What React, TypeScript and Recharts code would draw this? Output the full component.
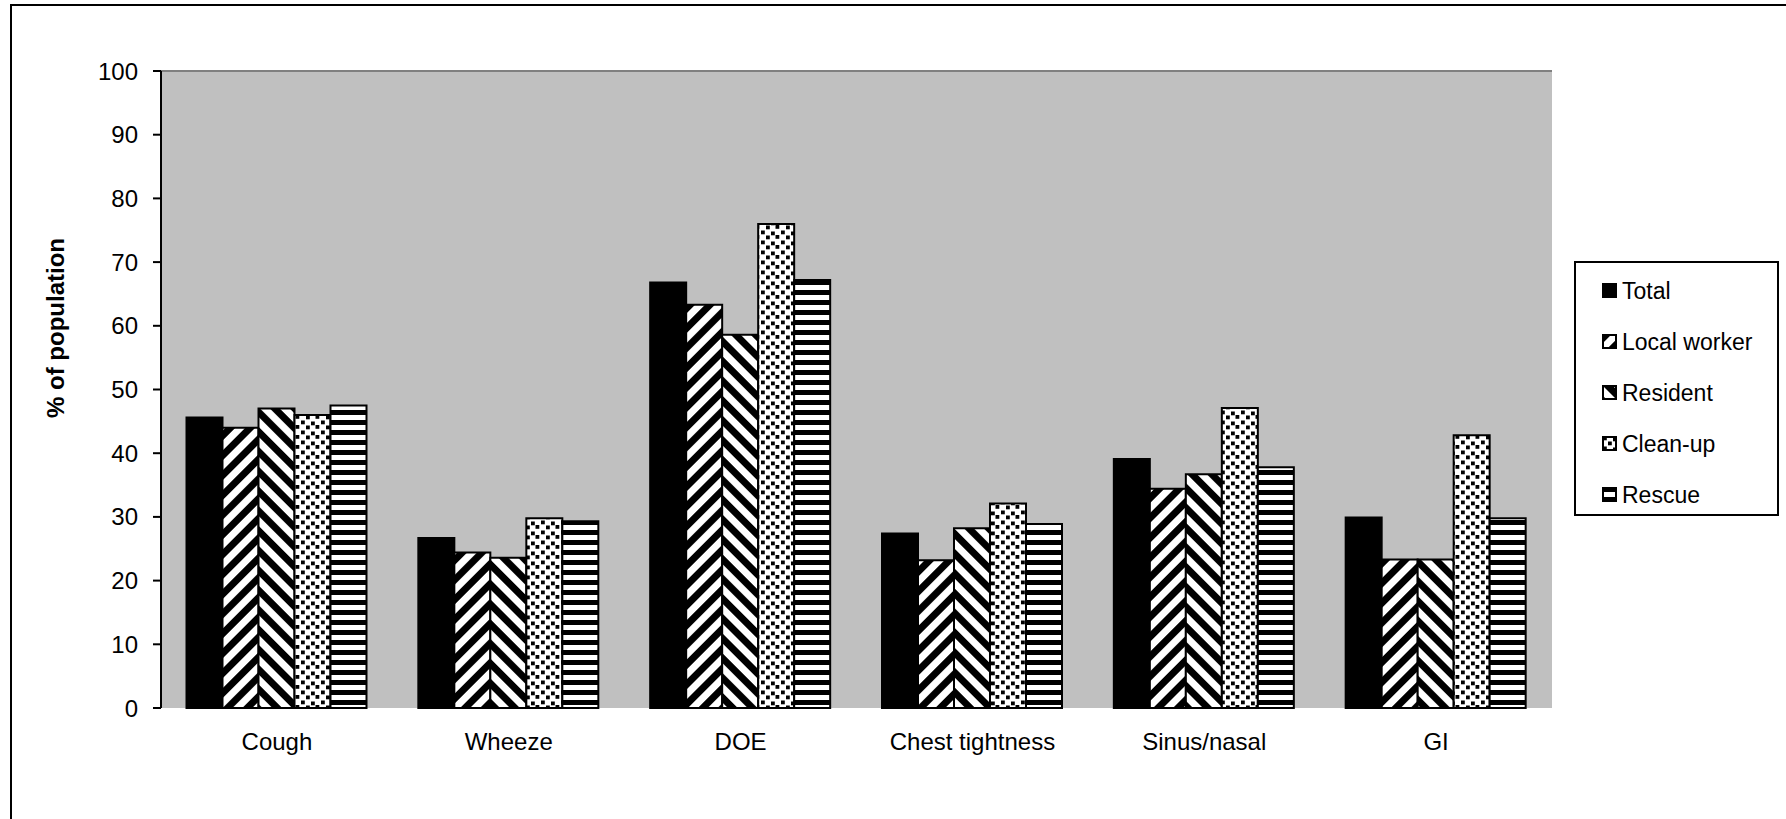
import {
  BarChart,
  Bar,
  XAxis,
  YAxis,
  CartesianGrid,
  ReferenceLine,
} from "recharts";

const categories = ["Cough", "Wheeze", "DOE", "Chest tightness", "Sinus/nasal", "GI"];
const total = [45.6, 26.7, 66.8, 27.4, 39.1, 29.9];
const localWorker = [44.0, 24.4, 63.3, 23.2, 34.4, 23.3];
const resident = [47.0, 23.6, 58.6, 28.2, 36.7, 23.3];
const cleanUp = [46.0, 29.8, 76.0, 32.1, 47.1, 42.8];
const rescue = [47.5, 29.3, 67.2, 28.9, 37.8, 29.8];
const yTicks = [0, 10, 20, 30, 40, 50, 60, 70, 80, 90, 100];
const edgeTicks = [0, 1, 2, 3, 4, 5, 6];

const series = [
  { key: "total", name: "Total", fill: "#000" },
  { key: "local", name: "Local worker", fill: "url(#pat-up)" },
  { key: "resident", name: "Resident", fill: "url(#pat-down)" },
  { key: "cleanup", name: "Clean-up", fill: "url(#pat-dots)" },
  { key: "rescue", name: "Rescue", fill: "url(#pat-horiz)" },
];

const data = categories.map((name, i) => ({
  name,
  total: total[i],
  local: localWorker[i],
  resident: resident[i],
  cleanup: cleanUp[i],
  rescue: rescue[i],
}));

const FONT = "'Liberation Sans', Arial, sans-serif";

function YTitle() {
  return (
    <text
      x={64}
      y={328}
      transform="rotate(-90, 64, 328)"
      textAnchor="middle"
      fontSize={24}
      fontWeight="bold"
      fontFamily={FONT}
      fill="#000"
    >
      % of population
    </text>
  );
}

export default function App() {
  return (
    <div
      style={{
        position: "fixed",
        left: 0,
        top: 0,
        width: 1786,
        height: 819,
        overflow: "hidden",
        background: "#fff",
        fontFamily: FONT,
      }}
    >
      <div
        style={{
          position: "absolute",
          left: 10,
          top: 4,
          width: 1800,
          height: 840,
          border: "2px solid #000",
        }}
      />
      <div style={{ position: "absolute", left: 0, top: 0 }}>
        <BarChart
          width={1786}
          height={819}
          data={data}
          margin={{ top: 71, right: 234, bottom: 51, left: 81 }}
          barCategoryGap="11%"
          barGap={0}
        >
          <defs>
            <pattern id="pat-up" patternUnits="userSpaceOnUse" width={14} height={14} patternTransform="rotate(45)">
              <rect x={0} y={0} width={14} height={14} fill="#fff" />
              <rect x={0} y={0} width={7} height={14} fill="#000" />
            </pattern>
            <pattern id="pat-down" patternUnits="userSpaceOnUse" width={14} height={14} patternTransform="rotate(-45)">
              <rect x={0} y={0} width={14} height={14} fill="#fff" />
              <rect x={0} y={0} width={7} height={14} fill="#000" />
            </pattern>
            <pattern id="pat-dots" patternUnits="userSpaceOnUse" width={20} height={10}>
              <rect x={0} y={0} width={20} height={10} fill="#fff" />
              <rect x={1} y={0.5} width={3.8} height={3.8} fill="#000" />
              <rect x={11} y={1.5} width={3.8} height={3.8} fill="#000" />
              <rect x={6} y={5.5} width={3.8} height={3.8} fill="#000" />
              <rect x={15.5} y={5} width={3.8} height={3.8} fill="#000" />
            </pattern>
            <pattern id="pat-horiz" patternUnits="userSpaceOnUse" width={10} height={10}>
              <rect x={0} y={0} width={10} height={10} fill="#fff" />
              <rect x={0} y={0} width={10} height={5} fill="#000" />
            </pattern>
          </defs>
          <CartesianGrid horizontal={false} vertical={false} fill="#C0C0C0" />
          <XAxis
            xAxisId="edges"
            type="number"
            domain={[0, 6]}
            ticks={edgeTicks}
            allowDataOverflow
            height={0}
            tickSize={8}
            tickFormatter={() => ""}
            axisLine={{ stroke: "#000", strokeWidth: 2 }}
            tickLine={{ stroke: "#000", strokeWidth: 2 }}
          />
          <XAxis
            dataKey="name"
            height={60}
            tickSize={8}
            tickMargin={17}
            axisLine={false}
            tickLine={false}
            interval={0}
            tick={{ fontSize: 24, fill: "#000", fontFamily: FONT }}
          />
          <YAxis
            width={80}
            domain={[0, 100]}
            ticks={yTicks}
            interval={0}
            tickSize={8}
            tickMargin={15}
            axisLine={{ stroke: "#000", strokeWidth: 2 }}
            tickLine={{ stroke: "#000", strokeWidth: 2 }}
            tick={{ fontSize: 24, fill: "#000", fontFamily: FONT }}
            label={<YTitle />}
          />
          <ReferenceLine y={100} stroke="#808080" strokeWidth={2} />
          <ReferenceLine xAxisId="edges" x={6} stroke="#808080" strokeWidth={2} />
          {series.map((s) => (
            <Bar
              key={s.key}
              dataKey={s.key}
              name={s.name}
              fill={s.fill}
              stroke="#000"
              strokeWidth={2}
              isAnimationActive={false}
            />
          ))}
        </BarChart>
      </div>
      <div
        style={{
          position: "absolute",
          left: 1574,
          top: 261,
          width: 201,
          height: 251,
          border: "2px solid #000",
          background: "#fff",
        }}
      >
        {series.map((s, i) => (
          <div
            key={s.key}
            style={{
              position: "absolute",
              left: 26,
              top: 14 + i * 51,
              height: 28,
              display: "flex",
              alignItems: "center",
              fontSize: 23,
              color: "#000",
              whiteSpace: "nowrap",
            }}
          >
            <svg width={16} height={16} style={{ marginRight: 4 }}>
              <rect x={1} y={1} width={13} height={13} fill={s.fill} stroke="#000" strokeWidth={2} />
            </svg>
            {s.name}
          </div>
        ))}
      </div>
    </div>
  );
}
